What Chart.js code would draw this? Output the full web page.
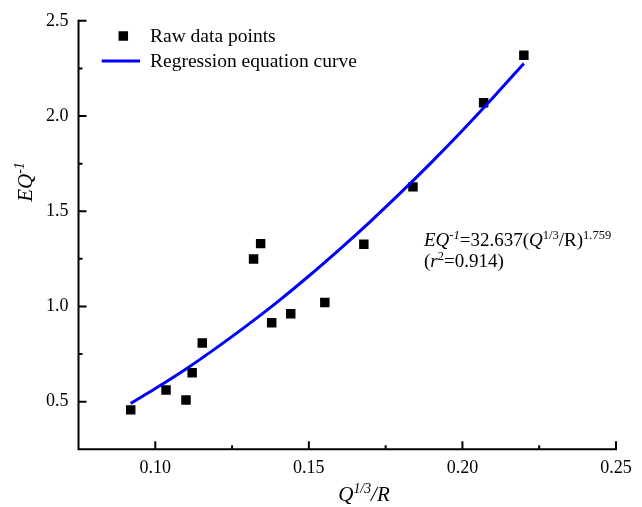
<!DOCTYPE html>
<html>
<head>
<meta charset="utf-8">
<script src="https://cdn.jsdelivr.net/npm/chart.js@4.4.1/dist/chart.umd.min.js"></script>
<style>
  html, body { margin: 0; padding: 0; background: #fff; }
  canvas { display: block; }
</style>
</head>
<body>
<canvas id="chart" width="642" height="507"></canvas>
<script>
// raw data points
const rawX = [0.092, 0.1035, 0.110, 0.112, 0.1153, 0.132, 0.1343, 0.1379, 0.1441, 0.1552, 0.1679, 0.1839, 0.2069, 0.220];
const rawY = [0.457, 0.561, 0.509, 0.652, 0.808, 1.249, 1.330, 0.915, 0.962, 1.021, 1.327, 1.628, 2.070, 2.319];

// regression curve, sampled off the figure
const curveX = [0.092, 0.10, 0.11, 0.12, 0.13, 0.14, 0.15, 0.16, 0.17, 0.18, 0.19, 0.20, 0.21, 0.22];
const curveY = [0.491, 0.569, 0.672, 0.784, 0.902, 1.027, 1.160, 1.300, 1.446, 1.599, 1.758, 1.924, 2.097, 2.276];

// axes
const xTicks = [0.10, 0.15, 0.20, 0.25];
const xMinor = [0.125, 0.175, 0.225];
const yTicks = [0.5, 1.0, 1.5, 2.0, 2.5];
const yMinor = [0.75, 1.25, 1.75, 2.25];

const SERIF = '"Liberation Serif", "Times New Roman", serif';

// draw a run of text pieces: [text, italic, superscript]
function drawRuns(ctx, x, y, runs, size, measureOnly) {
  let w = 0;
  runs.forEach(([t, it, sup]) => {
    const fs = sup ? size * 0.66 : size;
    ctx.font = (it ? 'italic ' : '') + fs + 'px ' + SERIF;
    if (!measureOnly) ctx.fillText(t, x + w, sup ? y - size * 0.38 : y);
    w += ctx.measureText(t).width;
  });
  return w;
}

const decor = {
  id: 'decor',
  afterDraw(chart) {
    const ctx = chart.ctx;
    const xs = chart.scales.x, ys = chart.scales.y;
    const a = chart.chartArea;
    ctx.save();
    ctx.strokeStyle = '#000';
    ctx.fillStyle = '#000';
    ctx.lineWidth = 2;
    ctx.lineCap = 'square';

    // axis lines
    ctx.beginPath();
    ctx.moveTo(a.left, a.top);
    ctx.lineTo(a.left, a.bottom);
    ctx.lineTo(a.right, a.bottom);
    ctx.stroke();

    // ticks pointing inward
    ctx.lineCap = 'butt';
    ctx.beginPath();
    xTicks.forEach(v => { const p = xs.getPixelForValue(v); ctx.moveTo(p, a.bottom); ctx.lineTo(p, a.bottom - 8); });
    xMinor.forEach(v => { const p = xs.getPixelForValue(v); ctx.moveTo(p, a.bottom); ctx.lineTo(p, a.bottom - 4); });
    yTicks.forEach(v => { const p = ys.getPixelForValue(v); ctx.moveTo(a.left, p); ctx.lineTo(a.left + 8, p); });
    yMinor.forEach(v => { const p = ys.getPixelForValue(v); ctx.moveTo(a.left, p); ctx.lineTo(a.left + 4, p); });
    ctx.stroke();

    ctx.textAlign = 'left';
    ctx.textBaseline = 'alphabetic';

    // x title
    const xt = [['Q', true], ['1/3', true, true], ['/R', true]];
    const xw = drawRuns(ctx, 0, 0, xt, 21, true);
    drawRuns(ctx, 364 - xw / 2, 501, xt, 21);

    // y title (rotated)
    const yt = [['EQ', true], ['-1', true, true]];
    ctx.save();
    ctx.translate(32, 182);
    ctx.rotate(-Math.PI / 2);
    const yw = drawRuns(ctx, 0, 0, yt, 21, true);
    drawRuns(ctx, -yw / 2, 0, yt, 21);
    ctx.restore();

    // legend
    ctx.fillRect(123.3 - 4.75, 36 - 4.75, 9.5, 9.5);
    ctx.strokeStyle = '#0000ff';
    ctx.lineWidth = 3;
    ctx.beginPath();
    ctx.moveTo(101.7, 61);
    ctx.lineTo(140, 61);
    ctx.stroke();
    ctx.font = '19.5px ' + SERIF;
    ctx.fillText('Raw data points', 150, 42);
    ctx.fillText('Regression equation curve', 150, 67);

    // equation
    drawRuns(ctx, 424, 246, [
      ['EQ', true], ['-1', true, true], ['=32.637(', false], ['Q', true],
      ['1/3', false, true], ['/R)', false], ['1.759', false, true]
    ], 19);
    drawRuns(ctx, 424, 267, [
      ['(', false], ['r', true], ['2', false, true], ['=0.914)', false]
    ], 19);

    ctx.restore();
  }
};

new Chart(document.getElementById('chart'), {
  type: 'scatter',
  data: {
    datasets: [
      {
        label: 'Raw data points',
        data: rawX.map((x, i) => ({ x, y: rawY[i] })),
        pointStyle: 'rect',
        pointRadius: 6.7,
        pointHoverRadius: 6.7,
        backgroundColor: '#000',
        borderWidth: 0,
        order: 1
      },
      {
        label: 'Regression equation curve',
        data: curveX.map((x, i) => ({ x, y: curveY[i] })),
        showLine: true,
        pointRadius: 0,
        borderColor: '#0000ff',
        borderWidth: 3,
        cubicInterpolationMode: 'monotone',
        order: 0
      }
    ]
  },
  options: {
    responsive: false,
    animation: false,
    events: [],
    layout: { padding: { top: 16, right: 26, left: 0, bottom: 0 } },
    plugins: { legend: { display: false }, tooltip: { enabled: false } },
    scales: {
      x: {
        type: 'linear',
        min: 0.075,
        max: 0.25,
        afterBuildTicks: s => { s.ticks = xTicks.map(v => ({ value: v })); },
        afterFit: s => { s.height = 57.7; },
        grid: { display: false, drawTicks: false },
        border: { display: false },
        ticks: {
          padding: 8,
          color: '#000',
          font: { family: SERIF, size: 18 },
          callback: v => v.toFixed(2)
        }
      },
      y: {
        type: 'linear',
        min: 0.25,
        max: 2.5,
        afterBuildTicks: s => { s.ticks = yTicks.map(v => ({ value: v })); },
        afterFit: s => { s.width = 78.5; },
        grid: { display: false, drawTicks: false },
        border: { display: false },
        ticks: {
          padding: 10,
          color: '#000',
          font: { family: SERIF, size: 18 },
          callback: v => v.toFixed(1)
        }
      }
    }
  },
  plugins: [decor]
});
</script>
</body>
</html>
